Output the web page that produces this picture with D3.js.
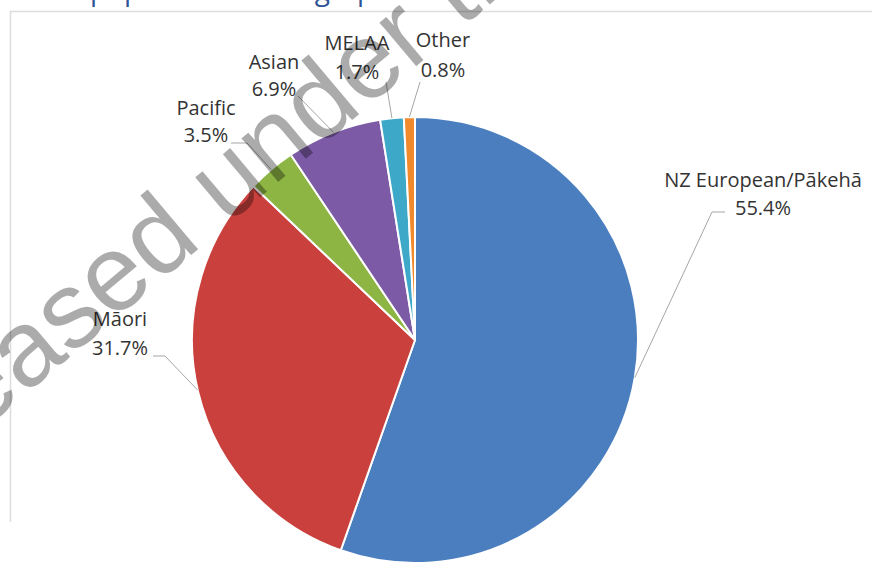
<!DOCTYPE html>
<html>
<head>
<meta charset="utf-8">
<script src="https://cdn.jsdelivr.net/npm/d3@7"></script>
<style>
  html, body { margin: 0; padding: 0; background: #ffffff; }
  svg { display: block; }
</style>
</head>
<body>
<svg id="chart" width="872" height="569"></svg>
<script>
// ---- data ----
const categories = ["NZ European/Pākehā", "Māori", "Pacific", "Asian", "MELAA", "Other"];
const values = [55.4, 31.7, 3.5, 6.9, 1.7, 0.8];
const valueLabels = ["55.4%", "31.7%", "3.5%", "6.9%", "1.7%", "0.8%"];
const titleText = "Prison population demographics";
const watermarkText = "Released under the Official Information Act";

// ---- style / layout ----
const colors = ["#4a7ebf", "#c9403d", "#8db543", "#7c5aa6", "#3ea8c9", "#f08a2c"];
const W = 872, H = 569;
const cx = 415, cy = 340, R = 223;
// label layout: x centre, first baseline, line gap, leader points and leader angle (deg clockwise from 12 o'clock; null = mid angle)
const labelLayout = [
  { x: 763, y: 187, dy: 28, leader: [[725, 212], [712, 212]], angle: null },
  { x: 120, y: 326, dy: 29, leader: [[153, 356], [165, 356]], angle: 257 },
  { x: 206, y: 115, dy: 27, leader: [[231, 143], [247, 143]], angle: null },
  { x: 274, y: 69,  dy: 27, leader: [[298, 96]], angle: null },
  { x: 357, y: 50,  dy: 29, leader: [[386, 82]], angle: null },
  { x: 443, y: 47,  dy: 30, leader: [[420, 82]], angle: null }
];

const svg = d3.select("#chart");

// chart frame
svg.append("path")
  .attr("d", `M10.5,522 L10.5,11.5 L${W},11.5`)
  .attr("fill", "none").attr("stroke", "#dcdcdc").attr("stroke-width", 1.5);

// title (cut off at the top in the source image)
svg.append("text")
  .attr("x", 0).attr("y", 0)
  .attr("font-family", "Open Sans, sans-serif")
  .attr("font-size", 28)
  .attr("fill", "#2f5597")
  .text(titleText);

// pie
const pie = d3.pie().value(d => d).sort(null);
const arcs = pie(values);
const arcGen = d3.arc().innerRadius(0).outerRadius(R);
const g = svg.append("g").attr("transform", `translate(${cx},${cy})`);
g.selectAll("path.slice").data(arcs).join("path")
  .attr("class", "slice")
  .attr("d", arcGen)
  .attr("fill", (d, i) => colors[i])
  .attr("stroke", "#ffffff")
  .attr("stroke-width", 2)
  .attr("stroke-linejoin", "round");

// leader lines
const leaderG = svg.append("g");
arcs.forEach((d, i) => {
  const L = labelLayout[i];
  const a = L.angle != null ? L.angle * Math.PI / 180 : (d.startAngle + d.endAngle) / 2;
  const end = [cx + R * Math.sin(a), cy - R * Math.cos(a)];
  const pts = L.leader.concat([end]);
  leaderG.append("path")
    .attr("d", d3.line()(pts))
    .attr("fill", "none")
    .attr("stroke", "#a6a6a6")
    .attr("stroke-width", 1);
});

// labels
const labG = svg.append("g")
  .attr("font-family", "Open Sans, sans-serif")
  .attr("font-size", 20)
  .attr("fill", "#333333")
  .attr("text-anchor", "middle");
categories.forEach((c, i) => {
  const L = labelLayout[i];
  labG.append("text").attr("x", L.x).attr("y", L.y).text(c);
  labG.append("text").attr("x", L.x).attr("y", L.y + L.dy).text(valueLabels[i]);
});

// watermark
svg.append("text")
  .attr("transform", "translate(-146,538) rotate(-40)")
  .attr("font-family", "Liberation Sans, Arial, sans-serif")
  .attr("font-size", 108)
  .attr("fill", "#000000")
  .attr("fill-opacity", 0.33)
  .text(watermarkText);
</script>
</body>
</html>
